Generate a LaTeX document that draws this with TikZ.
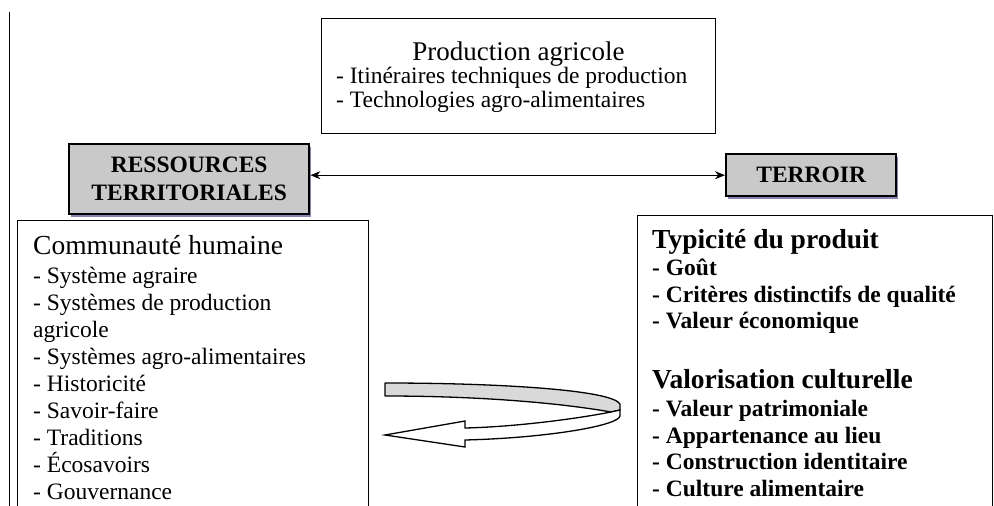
\documentclass[tikz,border=0pt]{standalone}
\usepackage{fontspec}
\setmainfont{Liberation Serif}
\usetikzlibrary{arrows.meta,shadows}
\begin{document}
\begin{tikzpicture}[x=1pt,y=-1pt,
  box/.style={draw, line width=1.4pt, inner sep=0pt, anchor=north west},
  tag/.style={draw, line width=2.4pt, fill=gray!42, inner sep=0pt, anchor=north west,
    drop shadow={shadow xshift=1.5pt, shadow yshift=-2.5pt, fill=black!65!blue!60, opacity=0.8},
    font=\bfseries\fontsize{23.5}{28}\selectfont, align=center},
  itm/.style={anchor=base west, inner sep=0pt, font=\fontsize{23.5}{26}\selectfont},
  hd/.style={anchor=base west, inner sep=0pt, font=\fontsize{27.5}{30}\selectfont},
  bitm/.style={itm, font=\bfseries\fontsize{23.5}{26}\selectfont},
  bhd/.style={hd, font=\bfseries\fontsize{27.5}{30}\selectfont}]
\useasboundingbox (0,0) rectangle (994,506);
\clip (0,0) rectangle (994,506);

% left margin line
\draw[line width=1.6pt] (9.5,12) -- (9.5,520);

% top box
\node[box, minimum width=394pt, minimum height=115pt] (prod) at (321,18) {};
\node[anchor=base, inner sep=0pt, text depth=1pt, font=\fontsize{27}{30}\selectfont] (prodh) at (518.5,60) {Production agricole};
\node[itm, text height=14pt] (p1) at (336,83) {- Itinéraires techniques de production};
\node[itm, text height=14pt] (p2) at (336,107) {- Technologies agro-alimentaires};

% tags
\node[tag, minimum width=240pt, minimum height=70pt] (res) at (68,143) {RESSOURCES\\TERRITORIALES};
\node[tag, minimum width=170pt, minimum height=42pt] (ter) at (725,153) {TERROIR};
\draw[{Stealth[length=10pt,width=8pt]}-{Stealth[length=10pt,width=8pt]}, line width=1.2pt]
  (res.east |- ter.west) -- (ter.west);

% left box
\node[box, minimum width=351pt, minimum height=320pt] (left) at (17,220) {};
\node[hd] (lh) at (33,254) {Communauté humaine};
\foreach \t [count=\i] in {- Système agraire, - Systèmes de production, agricole,
  - Systèmes agro-alimentaires, - Historicité, - Savoir-faire, - Traditions,
  - Écosavoirs, - Gouvernance}
  \node[itm] (l\i) at (33,{283+27.1*(\i-1)}) {\t};

% right box
\node[box, minimum width=355pt, minimum height=320pt] (right) at (637,215) {};
\node[bhd] (rh1) at (652,248) {Typicité du produit};
\node[bitm] (r1) at (652,275) {- Goût};
\node[bitm] (r2) at (652,302) {- Critères distinctifs de qualité};
\node[bitm] (r3) at (652,328.5) {- Valeur économique};
\node[bhd] (rh2) at (652,388) {Valorisation culturelle};
\node[bitm] (r4) at (652,416.5) {- Valeur patrimoniale};
\node[bitm] (r5) at (652,443.2) {- Appartenance au lieu};
\node[bitm] (r6) at (652,469.9) {- Construction identitaire};
\node[bitm] (r7) at (652,496.6) {- Culture alimentaire};

% U-turn block arrow
\draw[line width=1.3pt, fill=gray!30, line join=round]
  (385,383) .. controls (500,383) and (612,390) .. (620,404)
  -- (620,410) -- (611,412)
  .. controls (560,403) and (480,396) .. (385,396) -- cycle;
\draw[line width=1.3pt, fill=white, line join=miter]
  (611,412) .. controls (570,420) and (510,427) .. (465,428)
  -- (465,421) -- (385,435) -- (465,447) -- (465,440)
  .. controls (545,438) and (618,426) .. (620,416) -- (620,410) -- cycle;
\end{tikzpicture}
\end{document}
